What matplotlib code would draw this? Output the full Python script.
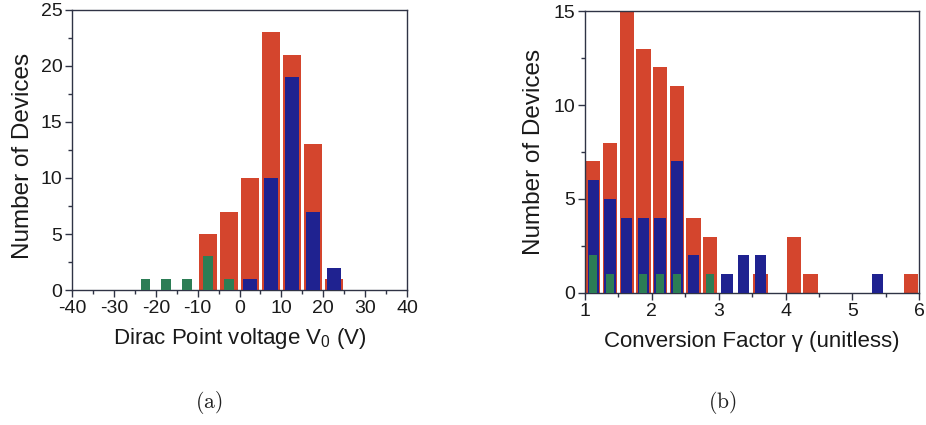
import matplotlib
matplotlib.use("Agg")
import matplotlib.pyplot as plt
from matplotlib.ticker import MultipleLocator

plt.rcParams['font.family'] = ['Liberation Sans', 'DejaVu Sans']
plt.rcParams['mathtext.fontset'] = 'custom'
plt.rcParams['mathtext.rm'] = 'Liberation Sans'
plt.rcParams['mathtext.it'] = 'Liberation Sans:italic'
plt.rcParams['axes.unicode_minus'] = False

# ---- panel (a): Dirac point voltage histogram (bin width 5 V) ----
v0_centers = [-22.5, -17.5, -12.5, -7.5, -2.5, 2.5, 7.5, 12.5, 17.5, 22.5]
v0_red = [0, 0, 0, 5, 7, 10, 23, 21, 13, 1]
v0_blue = [0, 0, 0, 0, 0, 1, 10, 19, 7, 2]
v0_green = [1, 1, 1, 3, 1, 0, 0, 0, 0, 0]

# ---- panel (b): conversion factor histogram (bin width 0.25) ----
g_centers = [1.125, 1.375, 1.625, 1.875, 2.125, 2.375, 2.625, 2.875,
             3.125, 3.375, 3.625, 3.875, 4.125, 4.375, 4.625, 4.875,
             5.125, 5.375, 5.625, 5.875]
g_red = [7, 8, 15, 13, 12, 11, 4, 3, 0, 0, 1, 0, 3, 1, 0, 0, 0, 0, 0, 1]
g_blue = [6, 5, 4, 4, 4, 7, 2, 0, 1, 2, 2, 0, 0, 0, 0, 0, 0, 1, 0, 0]
g_green = [2, 1, 0, 1, 1, 1, 0, 1, 0, 0, 0, 0, 0, 0, 0, 0, 0, 0, 0, 0]

RED = '#d4452d'
BLUE = '#1f2290'
GREEN = '#2c7d55'
SPINE = '#2f3345'
TXT = '#1a1a1a'

fig = plt.figure(figsize=(9.26, 4.25), dpi=100)
ax1 = fig.add_axes([0.0778, 0.3176, 0.3618, 0.659])
ax2 = fig.add_axes([0.6317, 0.3106, 0.3610, 0.6635])


def style(ax):
    for s in ax.spines.values():
        s.set_color(SPINE)
        s.set_linewidth(1.0)
    ax.tick_params(axis='x', which='major', direction='out', length=5,
                   width=1, color=SPINE, labelsize=14, pad=2.5)
    ax.tick_params(axis='x', which='minor', direction='out', length=3,
                   width=1, color=SPINE)
    ax.tick_params(axis='y', which='major', direction='out', length=5,
                   width=1, color=SPINE, labelsize=14, pad=2)
    ax.tick_params(axis='y', which='minor', direction='out', length=3,
                   width=1, color=SPINE)
    ax.tick_params(labelcolor=TXT)


# panel (a)
ax1.bar(v0_centers, v0_red, width=4.3, color=RED, edgecolor='none', zorder=2)
ax1.bar(v0_centers, v0_blue, width=3.3, color=BLUE, edgecolor='none', zorder=3)
ax1.bar(v0_centers, v0_green, width=2.3, color=GREEN, edgecolor='none', zorder=4)
ax1.set_xlim(-40, 40)
ax1.set_ylim(0, 25)
ax1.xaxis.set_major_locator(MultipleLocator(10))
ax1.xaxis.set_minor_locator(MultipleLocator(5))
ax1.yaxis.set_major_locator(MultipleLocator(5))
ax1.yaxis.set_minor_locator(MultipleLocator(2.5))
style(ax1)
ax1.set_xlabel('Dirac Point voltage V$_0$ (V)', fontsize=16, color=TXT)
ax1.set_ylabel('Number of Devices', fontsize=17.5, color=TXT, va='center')
ax1.xaxis.set_label_coords(0.5, -0.13)
ax1.yaxis.set_label_coords(-0.145, 0.48)

# panel (b)
ax2.bar(g_centers, g_red, width=0.215, color=RED, edgecolor='none', zorder=2)
ax2.bar(g_centers, g_blue, width=0.17, color=BLUE, edgecolor='none', zorder=3)
ax2.bar(g_centers, g_green, width=0.12, color=GREEN, edgecolor='none', zorder=4)
ax2.set_xlim(1, 6)
ax2.set_ylim(0, 15)
ax2.xaxis.set_major_locator(MultipleLocator(1))
ax2.xaxis.set_minor_locator(MultipleLocator(0.5))
ax2.yaxis.set_major_locator(MultipleLocator(5))
ax2.yaxis.set_minor_locator(MultipleLocator(2.5))
style(ax2)
ax2.set_xlabel('Conversion Factor \u03b3 (unitless)', fontsize=16, color=TXT)
ax2.set_ylabel('Number of Devices', fontsize=17.5, color=TXT, va='center')
ax2.xaxis.set_label_coords(0.5, -0.135)
ax2.yaxis.set_label_coords(-0.151, 0.5)

# sub-figure captions
fig.text(209 / 926, 1 - 403 / 425, '$\\mathrm{(a)}$', ha='center', va='center',
         fontsize=15.5, math_fontfamily='cm', color='#222222')
fig.text(722 / 926, 1 - 403 / 425, '$\\mathrm{(b)}$', ha='center', va='center',
         fontsize=15.5, math_fontfamily='cm', color='#222222')

fig.savefig('out.png', dpi=100)
